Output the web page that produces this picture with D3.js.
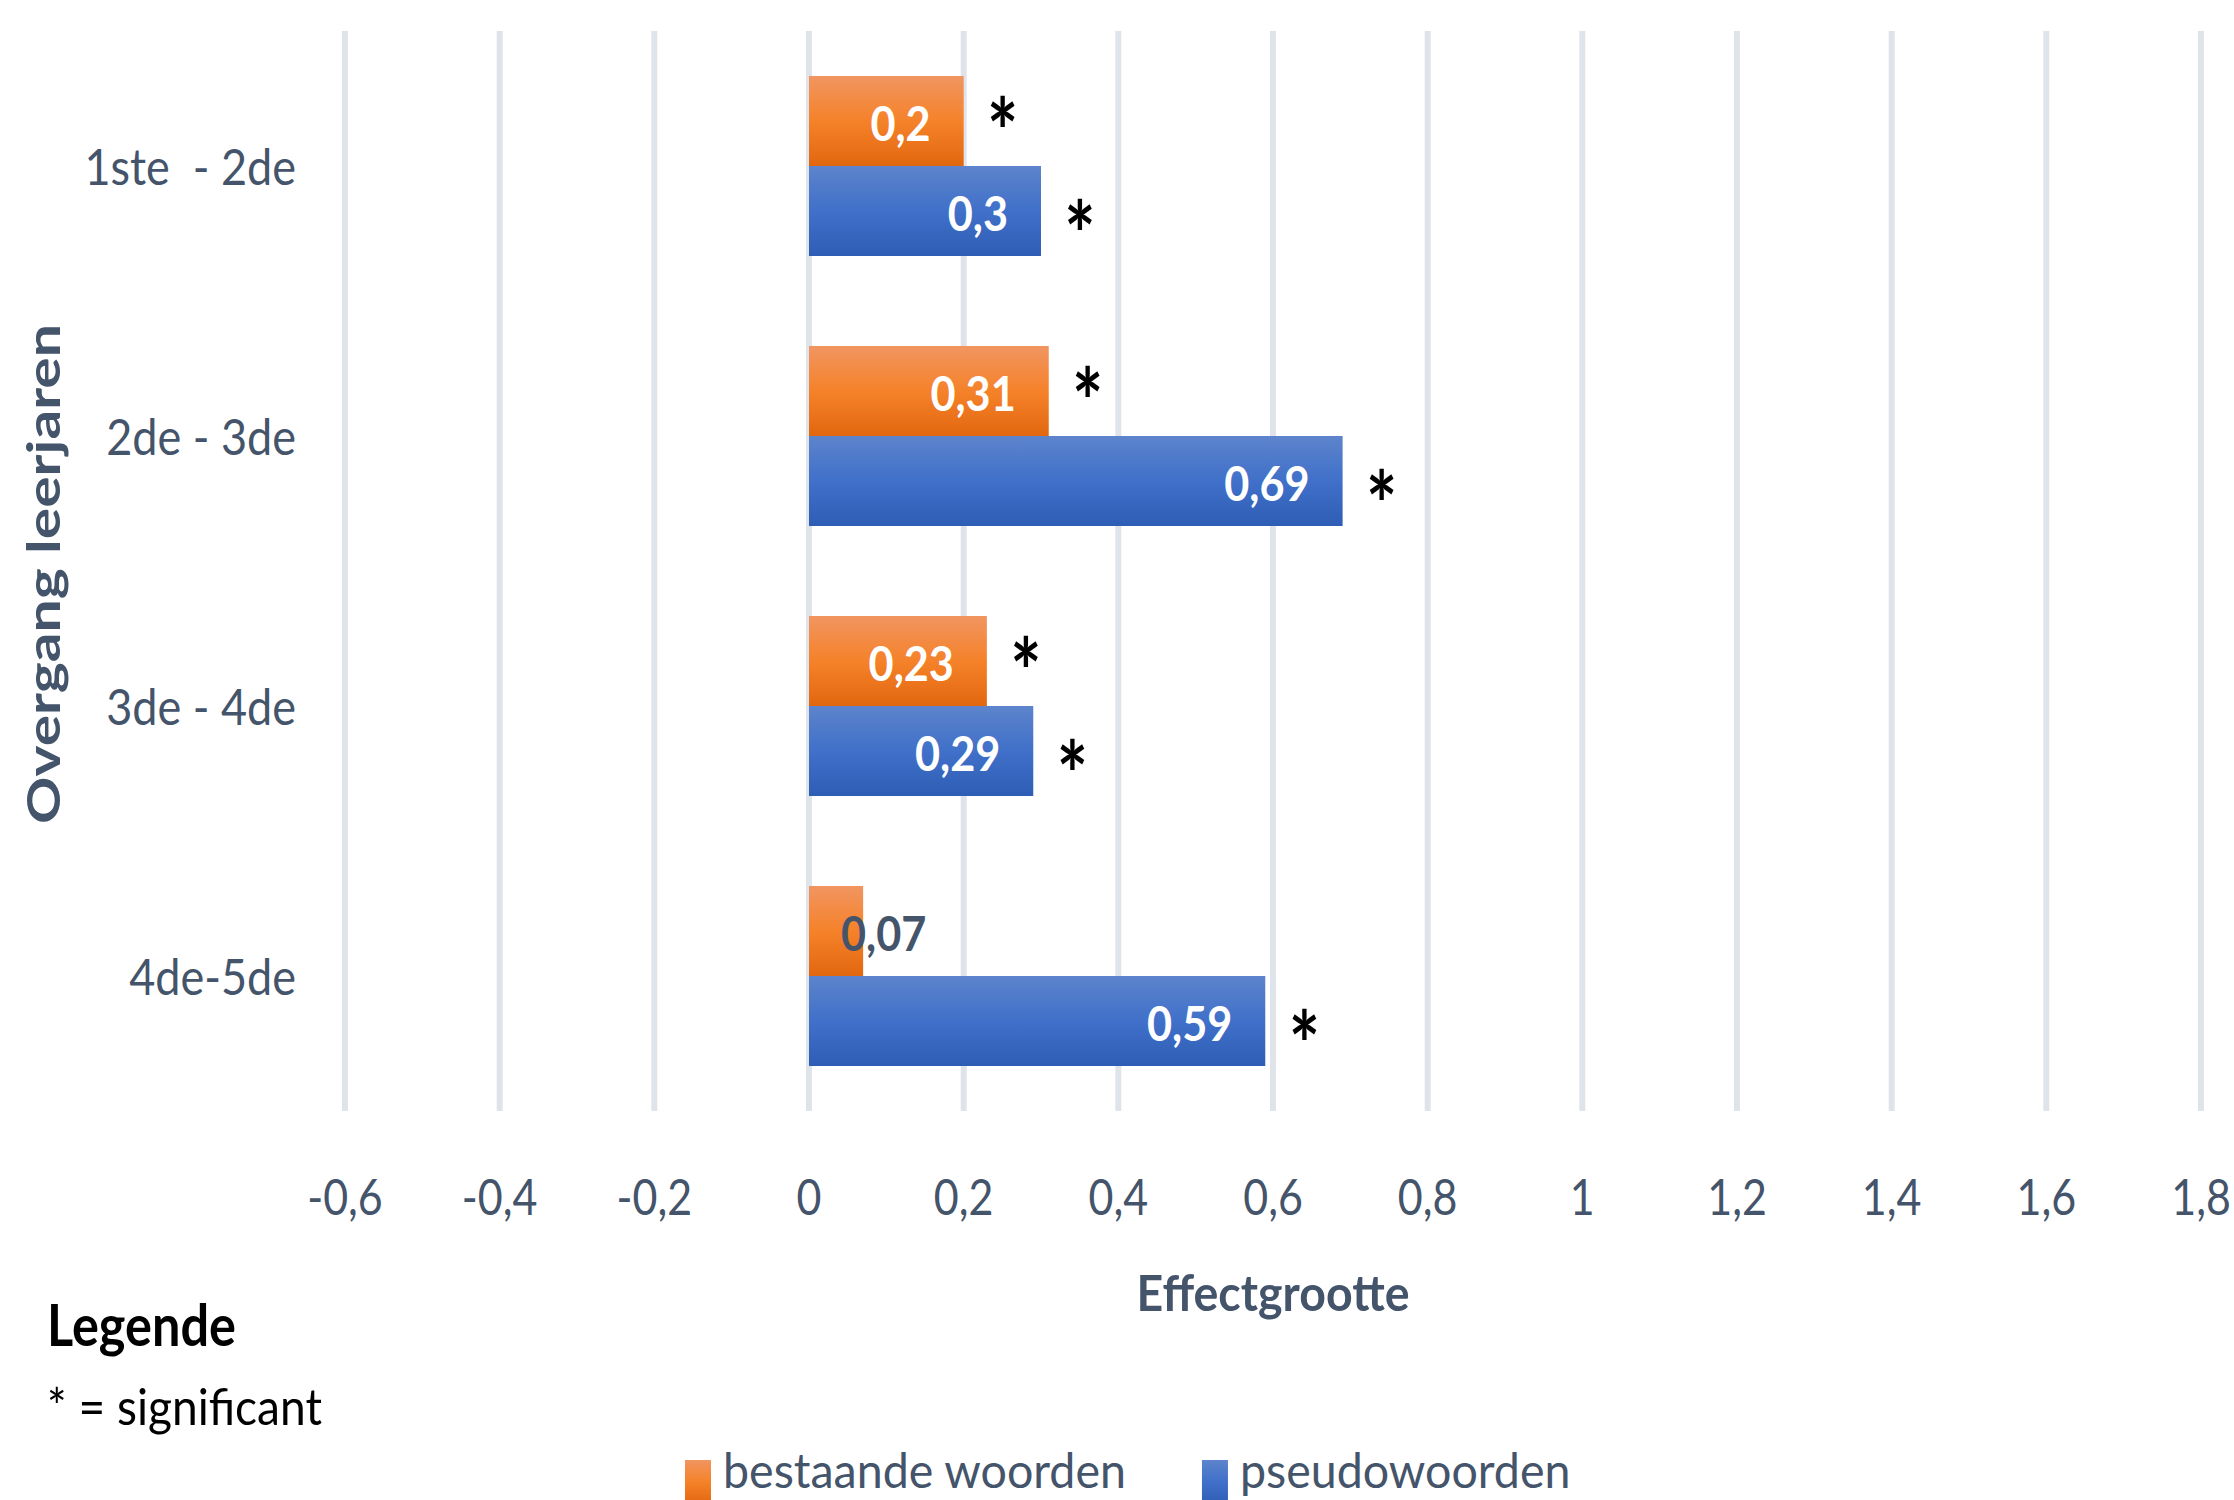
<!DOCTYPE html>
<html>
<head>
<meta charset="utf-8">
<script src="https://cdn.jsdelivr.net/npm/d3@7"></script>
<style>
  body { margin: 0; background: #fff; }
  text { font-family: Lato, "Open Sans", sans-serif; white-space: pre; }
</style>
</head>
<body>
<svg id="chart"></svg>
<script>
const categories = ["1ste  - 2de", "2de - 3de", "3de - 4de", "4de-5de"];
const seriesNames = ["bestaande woorden", "pseudowoorden"];
const bestaande = [0.2, 0.31, 0.23, 0.07];
const pseudo = [0.3, 0.69, 0.29, 0.59];
const sigBestaande = [true, true, true, false];
const sigPseudo = [true, true, true, true];
const xTicks = [-0.6, -0.4, -0.2, 0, 0.2, 0.4, 0.6, 0.8, 1, 1.2, 1.4, 1.6, 1.8];

const width = 2234, height = 1500;
const textColor = "#44546a";
const gradients = {
  "bestaande woorden": ["#f19561", "#f5822a", "#e2670f"],
  "pseudowoorden": ["#5d84cc", "#4070c9", "#2e5db5"]
};

const nl = d3.formatLocale({ decimal: ",", thousands: ".", grouping: [3], currency: ["€", ""], minus: "-" });
const fmt = nl.format("~g");

const svg = d3.select("#chart").attr("width", width).attr("height", height);

const defs = svg.append("defs");
seriesNames.forEach((s, i) => {
  const g = defs.append("linearGradient").attr("id", "grad" + i)
    .attr("x1", 0).attr("y1", 0).attr("x2", 0).attr("y2", 1);
  gradients[s].forEach((c, j) => g.append("stop").attr("offset", j / 2).attr("stop-color", c));
});

const x = d3.scaleLinear().domain([-0.6, 1.8]).range([345, 2201]);
const y = d3.scaleBand().domain(categories).range([31, 1111]).paddingInner(1 / 3).paddingOuter(1 / 6);
const ySub = d3.scaleBand().domain(seriesNames).range([0, y.bandwidth()]);

// gridlines
svg.append("g").selectAll("line").data(xTicks).enter().append("line")
  .attr("x1", d => x(d)).attr("x2", d => x(d))
  .attr("y1", 31).attr("y2", 1111)
  .attr("stroke", "#dfe3ea").attr("stroke-width", 6);

// x tick labels
svg.append("g").selectAll("text").data(xTicks).enter().append("text")
  .attr("transform", d => `translate(${x(d)},1215) scale(0.86,1)`)
  .attr("text-anchor", "middle")
  .attr("fill", textColor)
  .style("font-size", "50px")
  .text(d => fmt(d));

// category labels
svg.append("g").selectAll("text").data(categories).enter().append("text")
  .attr("transform", d => `translate(296,${y(d) + y.bandwidth() / 2 + 19}) scale(0.9,1)`)
  .attr("text-anchor", "end")
  .attr("fill", textColor)
  .style("font-size", "50px")
  .text(d => d);

const rows = [];
categories.forEach((c, i) => {
  rows.push({ cat: c, series: seriesNames[0], value: bestaande[i], sig: sigBestaande[i], idx: 0 });
  rows.push({ cat: c, series: seriesNames[1], value: pseudo[i], sig: sigPseudo[i], idx: 1 });
});

const bars = svg.append("g").selectAll("g").data(rows).enter().append("g");

bars.append("rect")
  .attr("x", x(0))
  .attr("y", d => y(d.cat) + ySub(d.series))
  .attr("width", d => x(d.value) - x(0))
  .attr("height", ySub.bandwidth())
  .attr("fill", d => `url(#grad${d.idx})`);

// data labels
const labelScale = 0.9;
bars.append("text")
  .attr("fill", "#fff")
  .style("font-size", "48px")
  .style("font-weight", "bold")
  .attr("dominant-baseline", "central")
  .text(d => fmt(d.value))
  .each(function (d) {
    const t = d3.select(this);
    const w = this.getComputedTextLength() * labelScale;
    const barW = x(d.value) - x(0);
    const cy = y(d.cat) + ySub(d.series) + ySub.bandwidth() / 2 + 2;
    if (w + 60 > barW) {
      t.attr("text-anchor", "start").attr("fill", textColor)
        .attr("transform", `translate(${x(0) + 32},${cy}) scale(${labelScale},1)`);
    } else {
      t.attr("text-anchor", "end")
        .attr("transform", `translate(${x(d.value) - 33},${cy}) scale(${labelScale},1)`);
    }
  });

// significance stars
const starSize = 92;
bars.filter(d => d.sig).append("text")
  .attr("text-anchor", "middle")
  .attr("fill", "#000")
  .style("font-size", starSize + "px")
  .style("font-weight", "bold")
  .attr("transform", d => {
    const cy = y(d.cat) + ySub(d.series) + ySub.bandwidth() / 2 + (d.idx === 0 ? -6 : 7);
    return `translate(${x(d.value) + 39},${cy + 0.55 * starSize}) scale(0.8,1)`;
  })
  .text("*");

// axis titles
const yTitle = svg.append("text")
  .attr("text-anchor", "middle")
  .attr("fill", textColor)
  .style("font-size", "46px")
  .style("font-weight", "bold")
  .text("Overgang leerjaren");
const ytw = yTitle.node().getComputedTextLength();
yTitle.attr("transform", `translate(60,574) rotate(-90) scale(${500 / ytw},1)`);

const xTitle = svg.append("text")
  .attr("text-anchor", "middle")
  .attr("fill", textColor)
  .style("font-size", "50px")
  .style("font-weight", "bold")
  .text("Effectgrootte");
const xtw = xTitle.node().getComputedTextLength();
xTitle.attr("transform", `translate(${(x.range()[0] + x.range()[1]) / 2},1311) scale(${273 / xtw},1)`);

// "Legende" note
const leg = svg.append("text")
  .attr("fill", "#000")
  .style("font-size", "57px")
  .style("font-weight", "bold")
  .text("Legende");
leg.attr("transform", `translate(47,1346) scale(${189 / leg.node().getComputedTextLength()},1)`);

const sig = svg.append("text")
  .attr("fill", "#000")
  .style("font-size", "50px")
  .text("* = significant");
sig.attr("transform", `translate(47,1425) scale(${275 / sig.node().getComputedTextLength()},1)`);

// series legend
const legendTextScale = 0.97;
let lx = 685;
seriesNames.forEach((s, i) => {
  const g = svg.append("g").attr("transform", `translate(${lx},0)`);
  g.append("rect").attr("x", 0).attr("y", 1460).attr("width", 26).attr("height", 44)
    .attr("fill", `url(#grad${i})`);
  const t = g.append("text")
    .attr("fill", textColor)
    .style("font-size", "48px")
    .attr("transform", `translate(38,1488) scale(${legendTextScale},1)`)
    .text(s);
  lx += 38 + t.node().getComputedTextLength() * legendTextScale + 76;
});
</script>
</body>
</html>
